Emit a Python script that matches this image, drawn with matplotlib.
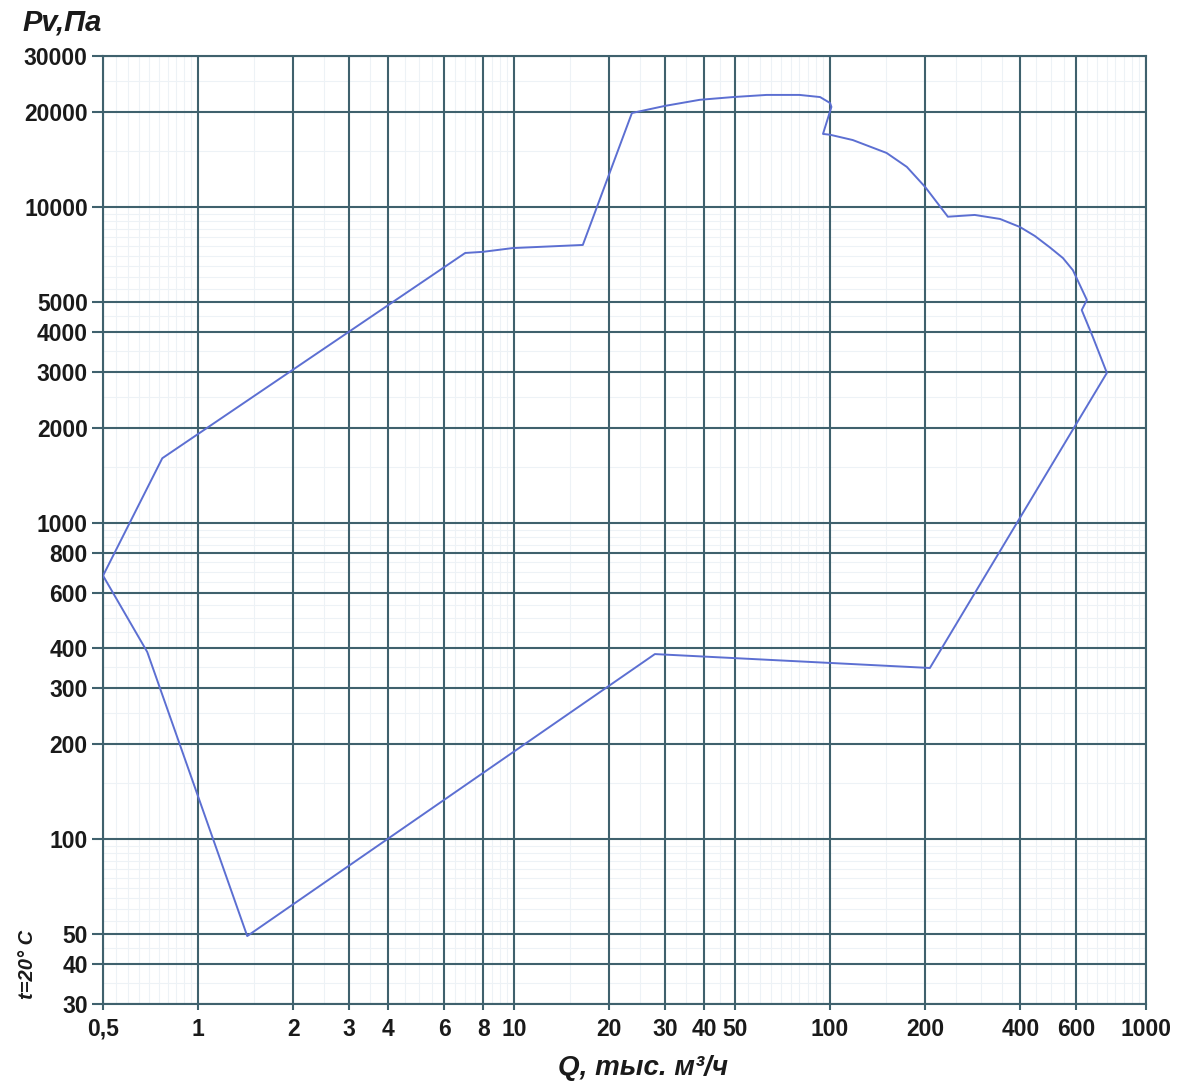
import matplotlib
matplotlib.use("Agg")
import matplotlib.pyplot as plt
import numpy as np
from matplotlib.ticker import FixedLocator, NullFormatter

plt.rcParams['font.family'] = ['Liberation Sans', 'DejaVu Sans']

# working envelope, clockwise from the leftmost point
q = [0.5, 0.77, 7.0, 7.97, 9.9, 16.5, 23.6, 30, 38.7, 49.3, 63, 80, 93, 100, 101,
     95, 100, 118, 151, 175, 200, 236, 287, 345, 399, 445, 496, 546, 587, 650, 626, 679,
     752, 207, 27.9, 1.43, 0.69, 0.5]
p = [680, 1600, 7140, 7200, 7400, 7570, 19800, 20850, 21800, 22240, 22590, 22590, 22240, 21300, 20700,
     17000, 16900, 16260, 14800, 13370, 11550, 9300, 9420, 9150, 8630, 8080, 7440, 6880, 6300, 5070, 4710, 3870,
     2980, 347, 384, 49.2, 390, 680]

x_ticks = [0.5, 1, 2, 3, 4, 6, 8, 10, 20, 30, 40, 50, 100, 200, 400, 600, 1000]
x_labels = ['0,5', '1', '2', '3', '4', '6', '8', '10', '20', '30', '40', '50',
            '100', '200', '400', '600', '1000']
y_ticks = [30, 40, 50, 100, 200, 300, 400, 600, 800, 1000, 2000, 3000, 4000,
           5000, 10000, 20000, 30000]
y_labels = [str(v) for v in y_ticks]

grid_c = '#3f616d'
curve_c = '#5c6fd2'

fig = plt.figure(figsize=(11.79, 10.85), dpi=100)
ax = fig.add_axes([0.0874, 0.0747, 0.972 - 0.0874, 0.9484 - 0.0747])
ax.set_xscale('log')
ax.set_yscale('log')
ax.set_xlim(0.5, 1000)
ax.set_ylim(30, 30000)

# faint minor grid
minor_x = [m * 10.0 ** k for k in range(-1, 3) for m in np.arange(1, 10, 0.5)]
minor_y = [m * 10.0 ** k for k in range(1, 5) for m in np.arange(1, 10, 0.5)]
for v in minor_x:
    if 0.5 < v < 1000 and v not in x_ticks:
        ax.axvline(v, color='#edf2f6', lw=0.8, zorder=1)
for v in minor_y:
    if 30 < v < 30000 and v not in y_ticks:
        ax.axhline(v, color='#edf2f6', lw=0.8, zorder=1)

# major grid
for v in x_ticks:
    ax.axvline(v, color=grid_c, lw=1.5, zorder=2)
for v in y_ticks:
    ax.axhline(v, color=grid_c, lw=1.5, zorder=2)

ax.plot(q, p, color=curve_c, lw=1.4, zorder=3)

ax.xaxis.set_major_locator(FixedLocator(x_ticks))
ax.xaxis.set_minor_locator(FixedLocator([]))
ax.yaxis.set_major_locator(FixedLocator(y_ticks))
ax.yaxis.set_minor_locator(FixedLocator([]))
ax.xaxis.set_minor_formatter(NullFormatter())
ax.yaxis.set_minor_formatter(NullFormatter())
ax.set_xticklabels(x_labels, fontsize=16.5, fontweight='bold', color='#1a1a1a')
ax.set_yticklabels(y_labels, fontsize=16.5, fontweight='bold', color='#1a1a1a')
ax.tick_params(axis='x', length=4, width=1.5, color=grid_c, pad=6)
ax.tick_params(axis='y', length=8, width=1.5, color=grid_c, pad=3)
for s in ax.spines.values():
    s.set_color(grid_c)
    s.set_linewidth(1.5)

fig.text(0.019, 0.979, 'Pv,Па', fontsize=21, fontweight='bold',
         style='italic', ha='left', va='center', color='#1a1a1a')
fig.text(0.545, 0.016, 'Q, тыс. м³/ч', fontsize=20, fontweight='bold',
         style='italic', ha='center', va='center', color='#1a1a1a')
fig.text(0.023, 0.111, 't=20° C', fontsize=14.5, fontweight='bold', style='italic',
         rotation=90, ha='center', va='center', color='#1a1a1a')

fig.savefig('out.png', dpi=100)
